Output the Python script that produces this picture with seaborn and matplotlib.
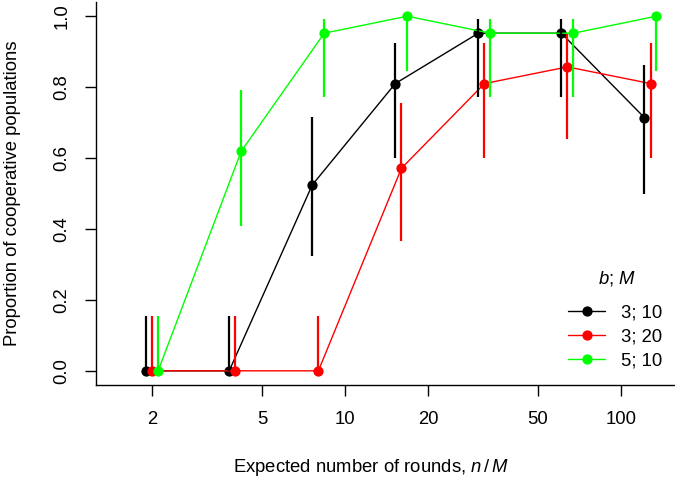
import numpy as np
import pandas as pd
import matplotlib
matplotlib.use("Agg")
import matplotlib.pyplot as plt
from matplotlib.lines import Line2D
import seaborn as sns

# expected number of rounds n/M (same grid for every group)
rounds = [2, 4, 8, 16, 32, 64, 128]

groups = ["3; 10", "3; 20", "5; 10"]
colors = ["#000000", "#ff0000", "#00ff00"]

# proportion of cooperative populations, with CI bounds
p_3_10 = [0.0, 0.0, 0.524, 0.810, 0.952, 0.952, 0.714]
lo_3_10 = [0.0, 0.0, 0.324, 0.600, 0.773, 0.773, 0.500]
hi_3_10 = [0.155, 0.155, 0.717, 0.923, 0.992, 0.992, 0.862]

p_3_20 = [0.0, 0.0, 0.0, 0.571, 0.810, 0.857, 0.810]
lo_3_20 = [0.0, 0.0, 0.0, 0.366, 0.600, 0.654, 0.600]
hi_3_20 = [0.155, 0.155, 0.155, 0.755, 0.923, 0.950, 0.923]

p_5_10 = [0.0, 0.619, 0.952, 1.0, 0.952, 0.952, 1.0]
lo_5_10 = [0.0, 0.409, 0.773, 0.845, 0.773, 0.773, 0.845]
hi_5_10 = [0.155, 0.792, 0.992, 1.0, 0.992, 0.992, 1.0]

props = [p_3_10, p_3_20, p_5_10]
lows = [lo_3_10, lo_3_20, lo_5_10]
highs = [hi_3_10, hi_3_20, hi_5_10]

# small horizontal dodge on the log scale so the groups don't overlap
dodge = [0.95, 1.0, 1.05]

rows = []
for g, d, p, lo, hi in zip(groups, dodge, props, lows, highs):
    for r, pi, l, h in zip(rounds, p, lo, hi):
        rows.append({"grp": g, "x": r * d, "p": pi, "lo": l, "hi": h})
df = pd.DataFrame(rows)

sns.set_style("ticks")
plt.rcParams["font.family"] = ["Liberation Sans", "DejaVu Sans"]
plt.rcParams["mathtext.fontset"] = "custom"
plt.rcParams["mathtext.rm"] = "Liberation Sans"
plt.rcParams["mathtext.it"] = "Liberation Sans:italic"
plt.rcParams["text.color"] = "black"
plt.rcParams["axes.labelcolor"] = "black"
plt.rcParams["xtick.color"] = "black"
plt.rcParams["ytick.color"] = "black"

fs = 13.3
fig = plt.figure(figsize=(6.75, 4.83), dpi=100)
ax = fig.add_axes([96 / 675, (483 - 385) / 483, 1 - 96 / 675, (385 - 2) / 483])

sns.lineplot(data=df, x="x", y="p", hue="grp", palette=colors, hue_order=groups,
             marker="o", markersize=7.4, markeredgewidth=0, linewidth=1.0,
             estimator=None, sort=False, legend=False, ax=ax)

for g, c in zip(groups, colors):
    sub = df[df["grp"] == g]
    ax.vlines(sub["x"], sub["lo"], sub["hi"], color=c, linewidth=1.6)

ax.set_xscale("log")
ax.set_xlim(1.25, 157)
ax.set_ylim(-0.04, 1.04)

ax.set_xticks([2, 5, 10, 20, 50, 100])
ax.set_xticklabels(["2", "5", "10", "20", "50", "100"])
ax.xaxis.set_minor_locator(matplotlib.ticker.NullLocator())
ax.set_yticks([0.0, 0.2, 0.4, 0.6, 0.8, 1.0])
ax.set_yticklabels(["0.0", "0.2", "0.4", "0.6", "0.8", "1.0"], rotation=90, va="center")

ax.tick_params(axis="both", length=8, width=1.0, pad=10.5, labelsize=fs,
               color="black", labelcolor="black")
for s in ["top", "right"]:
    ax.spines[s].set_visible(False)
for s in ["left", "bottom"]:
    ax.spines[s].set_linewidth(1.0)
    ax.spines[s].set_color("black")

ax.set_xlabel(r"Expected number of rounds, $n\,/\,M$", fontsize=fs, labelpad=21)
ax.xaxis.label.set_x((371 - 96) / (675 - 96))
ax.set_ylabel("Proportion of cooperative populations", fontsize=fs, labelpad=23)

handles = [Line2D([], [], color=c, marker="o", markersize=7.4, markeredgewidth=0, linewidth=1.0)
           for c in colors]
ax.legend(handles, groups, loc="center", bbox_to_anchor=(615 / 675, 1 - 337 / 483),
          bbox_transform=fig.transFigure, frameon=False, fontsize=fs,
          handlelength=2.0, handletextpad=0.85, labelspacing=0.37, borderpad=0)
fig.text(617 / 675, 1 - 279 / 483, "$b$; $M$", fontsize=fs, ha="center", va="center")

fig.savefig("out.png", dpi=100)
